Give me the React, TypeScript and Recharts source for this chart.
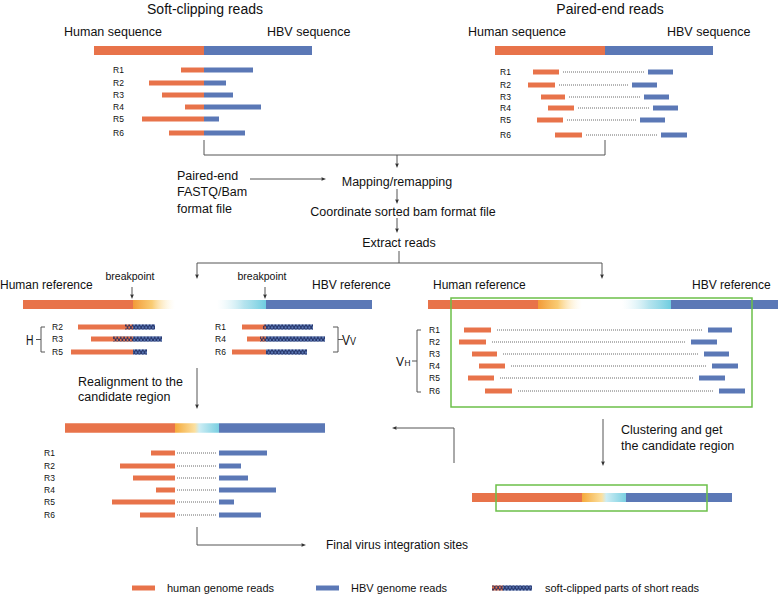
import React from 'react';
import { ComposedChart, XAxis, YAxis, Scatter, ReferenceArea, ReferenceLine, ReferenceDot } from 'recharts';

const W = 778;
const H = 594;

// ---------- data (diagram units = the picture's own coordinate system) ----------
const readLabels = ['R1', 'R2', 'R3', 'R4', 'R5', 'R6'];

// Soft-clipping reads: start of the human part, end of the HBV part (junction at 204)
const softHumanStart = [181, 149, 162, 185, 142, 169];
const softHbvEnd = [253, 226, 233, 261, 219, 245];

// Paired-end reads: human mate [start,end], HBV mate [start,end]
const pairedHuman = [[533, 559], [528, 555], [541, 565], [548, 574], [537, 563], [555, 582]];
const pairedHbv = [[648, 673], [632, 657], [644, 669], [653, 678], [640, 665], [661, 687]];

// Human-side soft clipped reads (H): R2, R3, R5 ; breakpoint 133
const hLabels = ['R2', 'R3', 'R5'];
const hStart = [78, 91, 71];
const hClip = [125, 113, 133];
const hEnd = [155, 162, 147];

// HBV-side soft clipped reads (Vv): R1, R4, R6 ; breakpoint 266
const vLabels = ['R1', 'R4', 'R6'];
const vStart = [242, 247, 232];
const vClip = [263, 260, 266];
const vEnd = [313, 325, 307];

// Discordant pairs (VH)
const vhHuman = [[464, 491], [459, 486], [472, 497], [479, 505], [468, 494], [485, 512]];
const vhHbv = [[708, 732], [691, 717], [704, 729], [712, 738], [699, 725], [719, 745]];

// Realigned reads to candidate region
const realignHumanStart = [151, 120, 133, 156, 112, 140];
const realignHbvEnd = [267, 241, 248, 276, 234, 261];

const legendItems = ['human genome reads', 'HBV genome reads', 'soft-clipped parts of short reads'];

// ---------- layout ----------
const rowsTL = [70, 83, 95, 107, 119, 133];
const rowsTR = [72, 85, 97, 108, 120, 135];
const rowsML = [327, 339, 352];
const rowsMR = [330, 342, 354, 366, 378, 391];
const rowsBL = [453, 466, 478, 490, 502, 515];

const ORANGE = '#E8734A';
const BLUE = '#5B78B6';
const NAVY = '#1f2c5e';
const GREEN = '#6cc04a';
const LINE = '#555';
const FONT = 'Liberation Sans, Arial, Helvetica, sans-serif';

type Rect = { x1: number; x2: number; y1: number; y2: number; fill: string; stroke?: string };
const rects: Rect[] = [];
const R = (x1: number, x2: number, yc: number, h: number, fill: string) =>
  rects.push({ x1, x2, y1: yc - h / 2, y2: yc + h / 2, fill });
const overlays: Rect[] = [];
const X = (x1: number, x2: number, yc: number, h: number) =>
  overlays.push({ x1, x2, y1: yc - h / 2, y2: yc + h / 2, fill: 'url(#xhatch)' });

type Seg = { a: [number, number]; b: [number, number]; head?: boolean; dotted?: boolean };
const segs: Seg[] = [];
const L = (x1: number, y1: number, x2: number, y2: number, head = false) => segs.push({ a: [x1, y1], b: [x2, y2], head });
const D = (x1: number, x2: number, y: number) => segs.push({ a: [x1, y], b: [x2, y], dotted: true });

type Txt = { t: string; x: number; y: number; size: number; anchor?: string; len?: number };
const texts: Txt[] = [];
const T = (t: string, x: number, y: number, size: number, anchor = 'start', len?: number) =>
  texts.push({ t, x, y, size, anchor, len });

// top-left panel
R(94, 204, 50.5, 9, ORANGE);
R(204, 312, 50.5, 9, BLUE);
readLabels.forEach((_, i) => {
  R(softHumanStart[i], 204, rowsTL[i], 5, ORANGE);
  R(204, softHbvEnd[i], rowsTL[i], 5, BLUE);
});
// top-right panel
R(495, 605, 50.5, 9, ORANGE);
R(605, 713, 50.5, 9, BLUE);
readLabels.forEach((_, i) => {
  R(pairedHuman[i][0], pairedHuman[i][1], rowsTR[i], 5, ORANGE);
  R(pairedHbv[i][0], pairedHbv[i][1], rowsTR[i], 5, BLUE);
  D(pairedHuman[i][1] + 4, pairedHbv[i][0] - 4, rowsTR[i]);
});
// middle-left human reference
R(23, 133, 304.5, 9, ORANGE);
R(133, 175, 304.5, 9, 'url(#fadeH)');
hLabels.forEach((_, i) => {
  R(hStart[i], hClip[i], rowsML[i], 5, ORANGE);
  R(hClip[i], 133, rowsML[i], 5, ORANGE);
  R(133, hEnd[i], rowsML[i], 5, BLUE);
  X(hClip[i], hEnd[i], rowsML[i], 5);
});
// middle-left HBV reference
R(217, 266, 304.5, 9, 'url(#fadeV)');
R(266, 372, 304.5, 9, BLUE);
vLabels.forEach((_, i) => {
  R(vStart[i], vClip[i], rowsML[i], 5, ORANGE);
  R(vClip[i], 266, rowsML[i], 5, ORANGE);
  R(266, vEnd[i], rowsML[i], 5, BLUE);
  X(vClip[i], vEnd[i], rowsML[i], 5);
});
// middle-right
R(428, 538, 304.5, 9, ORANGE);
R(538, 582, 304.5, 9, 'url(#fadeH)');
R(622, 671, 304.5, 9, 'url(#fadeV)');
R(671, 778, 304.5, 9, BLUE);
readLabels.forEach((_, i) => {
  R(vhHuman[i][0], vhHuman[i][1], rowsMR[i], 5, ORANGE);
  R(vhHbv[i][0], vhHbv[i][1], rowsMR[i], 5, BLUE);
  D(vhHuman[i][1] + 6, vhHbv[i][0] - 5, rowsMR[i]);
});
// bottom-left realignment
R(65, 175, 428, 9.5, ORANGE);
R(175, 219, 428, 9.5, 'url(#mix)');
R(219, 325, 428, 9.5, BLUE);
readLabels.forEach((_, i) => {
  R(realignHumanStart[i], 175, rowsBL[i], 5, ORANGE);
  R(219, realignHbvEnd[i], rowsBL[i], 5, BLUE);
  D(177, 217, rowsBL[i]);
});
// bottom-right candidate region
R(472, 582, 497.5, 9, ORANGE);
R(582, 626, 497.5, 9, 'url(#mix)');
R(626, 732, 497.5, 9, BLUE);
// legend swatches
R(132, 155, 588, 5, ORANGE);
R(316, 339, 588, 5, BLUE);
R(492, 503, 588, 5, ORANGE);
R(503, 532, 588, 5, BLUE);
X(492, 532, 588, 5);

const greenBoxes = [
  { x1: 451, x2: 752, y1: 298, y2: 407 },
  { x1: 496, x2: 707, y1: 485, y2: 511 },
];

// connectors
L(204, 140, 204, 155); L(204, 155, 605, 155); L(605, 140, 605, 155);
L(397, 155, 397, 168, true);
L(250, 179, 326, 179, true);
L(397, 189, 397, 204, true);
L(397, 218, 397, 233, true);
L(399, 251, 399, 263); L(197, 263, 602, 263);
L(197, 263, 197, 279, true); L(602, 263, 602, 279, true);
L(132, 287, 132, 299, true); L(265, 287, 265, 299, true);
// brackets
L(41, 327, 41, 352); L(41, 327, 45, 327); L(41, 352, 45, 352); L(36, 339.5, 41, 339.5);
L(338, 327, 338, 352); L(333, 327, 338, 327); L(333, 352, 338, 352); L(338, 339.5, 343, 339.5);
L(417, 330, 417, 392); L(417, 330, 421, 330); L(417, 392, 421, 392); L(412, 361, 417, 361);
L(197, 368, 197, 409, true);
L(603, 419, 603, 466, true);
L(454, 463, 454, 428); L(454, 428, 392, 428, true);
L(197, 527, 197, 545); L(197, 545, 306, 545, true);

// texts
T('Soft-clipping reads', 205, 13.5, 14, 'middle');
T('Paired-end reads', 610, 13.5, 14, 'middle');
T('Human sequence', 64, 36, 12.5);
T('HBV sequence', 267, 36, 12.5);
T('Human sequence', 468, 36, 12.5);
T('HBV sequence', 667, 36, 12.5);
T('Paired-end', 177, 179.5, 12.5);
T('FASTQ/Bam', 177, 196, 12.5);
T('format file', 177, 212.5, 12.5);
T('Mapping/remapping', 397, 185.5, 12.5, 'middle');
T('Coordinate sorted bam format file', 403, 215.5, 12.5, 'middle');
T('Extract reads', 399, 246.5, 12.5, 'middle');
T('Human reference', 0, 289, 12);
T('breakpoint', 130, 280, 10.5, 'middle');
T('breakpoint', 262, 280, 10.5, 'middle');
T('HBV reference', 312, 289, 12);
T('Human reference', 433, 289, 12);
T('HBV reference', 692, 289, 12);
T('Realignment to the', 78, 386, 12.5);
T('candidate region', 78, 401, 12.5);
T('Clustering and get', 621, 434, 12.5);
T('the candidate region', 621, 450, 12.5);
T('Final virus integration sites', 326, 549, 12);
T(legendItems[0], 167, 591.5, 11);
T(legendItems[1], 351, 591.5, 11);
T(legendItems[2], 545, 591.5, 11);
T('H', 26, 344.5, 15, 'start', 7.5);
T('V', 342, 345, 14, 'start', 8);
T('V', 350, 345, 10, 'start', 6);
T('V', 396, 366, 13, 'start', 8);
T('H', 404.5, 366, 9, 'start', 6);

// read-label points (drawn by a Scatter series)
const labelPoints = [
  ...readLabels.map((t, i) => ({ x: 113, y: rowsTL[i], t })),
  ...readLabels.map((t, i) => ({ x: 500, y: rowsTR[i], t })),
  ...hLabels.map((t, i) => ({ x: 52, y: rowsML[i], t })),
  ...vLabels.map((t, i) => ({ x: 215, y: rowsML[i], t })),
  ...readLabels.map((t, i) => ({ x: 429, y: rowsMR[i], t })),
  ...readLabels.map((t, i) => ({ x: 44, y: rowsBL[i], t })),
];

const arrowShape = (head: boolean, dotted: boolean) => (p: any) => {
  const { x1, y1, x2, y2 } = p;
  if (dotted) {
    return <line x1={x1} y1={y1} x2={x2} y2={y2} stroke="#444" strokeWidth={0.8} strokeDasharray="1 1" />;
  }
  if (!head) return <line x1={x1} y1={y1} x2={x2} y2={y2} stroke={LINE} strokeWidth={1} />;
  const ang = Math.atan2(y2 - y1, x2 - x1);
  const len = 4.5;
  const wd = 1.8;
  const bx = x2 - len * Math.cos(ang);
  const by = y2 - len * Math.sin(ang);
  const pts = `${x2},${y2} ${bx + wd * Math.sin(ang)},${by - wd * Math.cos(ang)} ${bx - wd * Math.sin(ang)},${by + wd * Math.cos(ang)}`;
  return (
    <g>
      <line x1={x1} y1={y1} x2={bx} y2={by} stroke={LINE} strokeWidth={1} />
      <polygon points={pts} fill="#333" />
    </g>
  );
};

const textShape = (tx: Txt) => (p: any) => (
  <text
    x={p.cx}
    y={p.cy}
    fontSize={tx.size}
    fontFamily={FONT}
    fill="#111"
    textAnchor={tx.anchor as any}
    {...(tx.len ? { textLength: tx.len, lengthAdjust: 'spacingAndGlyphs' } : {})}
  >
    {tx.t}
  </text>
);

const LabelShape = (p: any) => (
  <text x={p.cx} y={p.cy + 3.2} fontSize={8.5} fontFamily={FONT} fill="#111">
    {p.payload.t}
  </text>
);

export default function App() {
  return (
    <div style={{ position: 'absolute', left: 0, top: 0, width: W, height: H, background: '#fff' }}>
      <ComposedChart width={W} height={H} margin={{ top: 0, right: 0, bottom: 0, left: 0 }}>
        <defs>
          <linearGradient id="fadeH" x1="0" y1="0" x2="1" y2="0">
            <stop offset="0" stopColor="#F29A38" stopOpacity={1} />
            <stop offset="0.45" stopColor="#F8C25A" stopOpacity={0.85} />
            <stop offset="1" stopColor="#FFF3D0" stopOpacity={0} />
          </linearGradient>
          <linearGradient id="fadeV" x1="0" y1="0" x2="1" y2="0">
            <stop offset="0" stopColor="#D8F1F7" stopOpacity={0} />
            <stop offset="0.55" stopColor="#A3DDEA" stopOpacity={0.8} />
            <stop offset="1" stopColor="#6FCDE0" stopOpacity={1} />
          </linearGradient>
          <linearGradient id="mix" x1="0" y1="0" x2="1" y2="0">
            <stop offset="0" stopColor="#F5AA3C" />
            <stop offset="0.45" stopColor="#FBE0A0" />
            <stop offset="0.55" stopColor="#CDEDF4" />
            <stop offset="1" stopColor="#7ACFE1" />
          </linearGradient>
          <pattern id="xhatch" width="3.4" height="5" patternUnits="userSpaceOnUse">
            <path d="M0,0 L3.4,5 M3.4,0 L0,5" stroke={NAVY} strokeWidth={0.9} />
          </pattern>
        </defs>
        <XAxis type="number" dataKey="x" domain={[0, W]} hide allowDataOverflow />
        <YAxis type="number" dataKey="y" domain={[0, H]} reversed hide allowDataOverflow />
        {rects.map((r, i) => (
          <ReferenceArea key={'r' + i} x1={r.x1} x2={r.x2} y1={r.y1} y2={r.y2} fill={r.fill} fillOpacity={1} stroke="none" />
        ))}
        {overlays.map((r, i) => (
          <ReferenceArea key={'o' + i} x1={r.x1} x2={r.x2} y1={r.y1} y2={r.y2} fill={r.fill} fillOpacity={1} stroke="none" />
        ))}
        {greenBoxes.map((g, i) => (
          <ReferenceArea key={'g' + i} x1={g.x1} x2={g.x2} y1={g.y1} y2={g.y2} fill="none" fillOpacity={0} stroke={GREEN} strokeWidth={1.5} />
        ))}
        {segs.map((s, i) => (
          <ReferenceLine
            key={'s' + i}
            segment={[{ x: s.a[0], y: s.a[1] }, { x: s.b[0], y: s.b[1] }]}
            shape={arrowShape(!!s.head, !!s.dotted)}
          />
        ))}
        {texts.map((tx, i) => (
          <ReferenceDot key={'t' + i} x={tx.x} y={tx.y} r={0} shape={textShape(tx)} />
        ))}
        <Scatter data={labelPoints} dataKey="y" shape={LabelShape} isAnimationActive={false} />
      </ComposedChart>
    </div>
  );
}
